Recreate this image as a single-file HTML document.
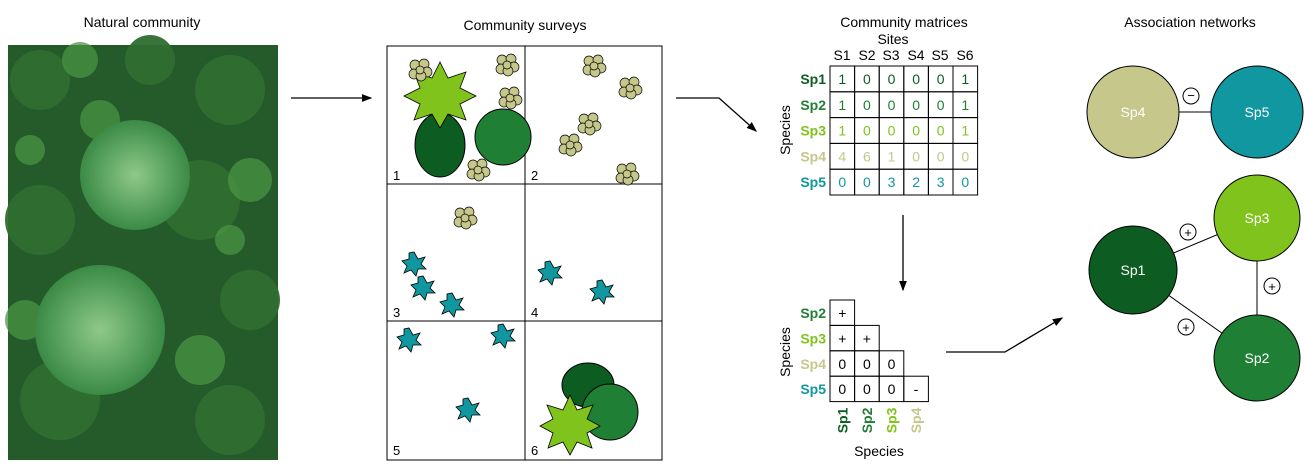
<!DOCTYPE html>
<html><head><meta charset="utf-8"><style>
body{margin:0;background:#fff;}
svg{display:block;font-family:"Liberation Sans",Arial,sans-serif;}
</style></head><body>
<svg width="1304" height="468" viewBox="0 0 1304 468">
<defs>
<marker id="ah" markerWidth="8" markerHeight="8" refX="7" refY="4" orient="auto"><path d="M0,1 L8,4 L0,7 Z" fill="#000"/></marker>
<radialGradient id="fern" cx="50%" cy="50%" r="50%"><stop offset="0" stop-color="#8fc98a"/><stop offset="1" stop-color="#3a8a45"/></radialGradient>
<g id="clump"><g fill="#c5c88a" stroke="#000" stroke-width="0.7">
<circle cx="-5" cy="-5" r="5"/><circle cx="4" cy="-6" r="5"/><circle cx="7" cy="2" r="5"/><circle cx="-6" cy="4" r="5"/><circle cx="1" cy="6" r="5"/><circle cx="0" cy="0" r="4"/></g></g>
<g id="star"><polygon points="0,-12 4,-5 11,-7 7,0 12,5 4,5 2,12 -3,6 -10,9 -7,2 -12,-3 -5,-5 -5,-11" fill="#10979f" stroke="#000" stroke-width="0.8"/></g>
</defs>
<text x="142" y="27" text-anchor="middle" font-size="14">Natural community</text>
<text x="525" y="30" text-anchor="middle" font-size="14">Community surveys</text>
<text x="904" y="27" text-anchor="middle" font-size="14">Community matrices</text>
<text x="1190" y="27" text-anchor="middle" font-size="14">Association networks</text>

<g>
<rect x="8" y="45" width="270" height="415" fill="#255a2a"/>
<g fill="#2f6e30" opacity="0.95">
<circle cx="40" cy="80" r="30"/><circle cx="230" cy="90" r="35"/><circle cx="200" cy="200" r="40"/><circle cx="40" cy="220" r="35"/><circle cx="250" cy="300" r="30"/><circle cx="60" cy="400" r="40"/><circle cx="230" cy="420" r="35"/><circle cx="150" cy="60" r="25"/>
</g>
<g fill="#4a9443" opacity="0.75">
<circle cx="100" cy="120" r="20"/><circle cx="250" cy="180" r="22"/><circle cx="25" cy="320" r="20"/><circle cx="200" cy="360" r="25"/><circle cx="80" cy="60" r="18"/><circle cx="230" cy="240" r="15"/><circle cx="30" cy="150" r="15"/>
</g>
<circle cx="135" cy="175" r="55" fill="url(#fern)"/>
<circle cx="100" cy="330" r="65" fill="url(#fern)"/>
</g>

<g stroke="#000" stroke-width="1.3" fill="none">
<line x1="291" y1="98" x2="371" y2="98" marker-end="url(#ah)"/>
<polyline points="676,98 719,98 756,131" marker-end="url(#ah)"/>
<line x1="903" y1="215" x2="903" y2="290" marker-end="url(#ah)"/>
<polyline points="946,352 1005,352 1062,318" marker-end="url(#ah)"/>
</g>

<g>
<rect x="387" y="46" width="275" height="414" fill="#fff" stroke="#000" stroke-width="1"/>
<line x1="525" y1="46" x2="525" y2="460" stroke="#000"/>
<line x1="387" y1="184" x2="662" y2="184" stroke="#000"/>
<line x1="387" y1="321" x2="662" y2="321" stroke="#000"/>
<g font-size="13">
<text x="393" y="180">1</text><text x="531" y="180">2</text><text x="393" y="317">3</text><text x="531" y="317">4</text><text x="393" y="455">5</text><text x="531" y="455">6</text>
</g>
<ellipse cx="440" cy="145" rx="25" ry="32" fill="#0d5d22" stroke="#000"/>
<ellipse cx="503" cy="137" rx="28" ry="28" fill="#1f7f34" stroke="#000"/>
<polygon points="440,62 448,78 466,72 460,88 476,96 460,104 466,120 448,114 440,128 432,114 414,120 420,104 404,96 420,88 414,72 432,78" fill="#80c31c" stroke="#000" stroke-width="0.8"/>
<use href="#clump" x="420" y="70"/><use href="#clump" x="507" y="65"/><use href="#clump" x="510" y="98"/><use href="#clump" x="478" y="170"/>
<use href="#clump" x="594" y="66"/><use href="#clump" x="630" y="88"/><use href="#clump" x="589" y="124"/><use href="#clump" x="570" y="145"/><use href="#clump" x="627" y="174"/><use href="#clump" x="465" y="218"/>
<use href="#star" x="414" y="264"/><use href="#star" x="423" y="288"/><use href="#star" x="452" y="305"/><use href="#star" x="550" y="273"/><use href="#star" x="602" y="292"/>
<use href="#star" x="409" y="340"/><use href="#star" x="503" y="336"/><use href="#star" x="468" y="410"/>
<ellipse cx="588" cy="385" rx="26" ry="22" fill="#0d5d22" stroke="#000"/>
<ellipse cx="610" cy="412" rx="28" ry="28" fill="#1f7f34" stroke="#000"/>
<polygon points="570,395 577,410 593,405 587,419 600,426 587,433 592,448 577,442 570,455 563,442 548,448 553,433 540,426 553,419 547,405 563,410" fill="#80c31c" stroke="#000" stroke-width="0.8"/>
</g>

<g>
<text x="893" y="44" text-anchor="middle" font-size="14">Sites</text>
<g font-size="14" text-anchor="middle">
<text x="842" y="60">S1</text><text x="867" y="60">S2</text><text x="891" y="60">S3</text><text x="916" y="60">S4</text><text x="940" y="60">S5</text><text x="965" y="60">S6</text>
</g>
<text transform="translate(790,130) rotate(-90)" text-anchor="middle" font-size="14">Species</text>
<g id="m1"></g>
</g>

<g>
<text transform="translate(790,352) rotate(-90)" text-anchor="middle" font-size="14">Species</text>
<text x="879" y="456" text-anchor="middle" font-size="14">Species</text>
<g id="m2"></g>
</g>

<g>
<line x1="1133" y1="112" x2="1257" y2="112" stroke="#000"/>
<line x1="1133" y1="270" x2="1257" y2="218" stroke="#000"/>
<line x1="1257" y1="218" x2="1257" y2="358" stroke="#000"/>
<line x1="1133" y1="270" x2="1257" y2="358" stroke="#000"/>
<g font-size="14" fill="#fff" text-anchor="middle">
<circle cx="1133" cy="112" r="46" fill="#c5c88a" stroke="#000"/><text x="1133" y="117">Sp4</text>
<circle cx="1257" cy="112" r="46" fill="#10979f" stroke="#000"/><text x="1257" y="117">Sp5</text>
<circle cx="1257" cy="218" r="43" fill="#80c31c" stroke="#000"/><text x="1257" y="223">Sp3</text>
<circle cx="1133" cy="270" r="44" fill="#0d5d22" stroke="#000"/><text x="1133" y="275">Sp1</text>
<circle cx="1257" cy="358" r="43" fill="#1f7f34" stroke="#000"/><text x="1257" y="363">Sp2</text>
</g>
<g fill="#fff" stroke="#000" font-size="13" text-anchor="middle">
<circle cx="1191" cy="96" r="8"/><circle cx="1188" cy="232" r="8"/><circle cx="1272" cy="286" r="8"/><circle cx="1186" cy="327" r="8"/>
</g>
<g font-size="13" text-anchor="middle">
<text x="1191" y="100">−</text><text x="1188" y="237">+</text><text x="1272" y="291">+</text><text x="1186" y="332">+</text>
</g>
</g>
</svg>
<script>
const NS='http://www.w3.org/2000/svg';
const species=['Sp1','Sp2','Sp3','Sp4','Sp5'];
const colors=['#0d5d22','#1f7f34','#80c31c','#c5c88a','#10979f'];
const counts=[[1,0,0,0,0,1],[1,0,0,0,0,1],[1,0,0,0,0,1],[4,6,1,0,0,0],[0,0,3,2,3,0]];
const assoc=[['+'],['+','+'],['0','0','0'],['0','0','0','-']];
function el(t,a,p,txt){const e=document.createElementNS(NS,t);for(const k in a)e.setAttribute(k,a[k]);if(txt!==undefined)e.textContent=txt;p.appendChild(e);return e;}
const m1=document.getElementById('m1');
const cw=24.6,rh=25.8,x0=830,y0=66;
counts.forEach((row,i)=>{
  const lab=el('text',{x:x0-4,y:y0+i*rh+18,'text-anchor':'end','font-size':14,'font-weight':'bold',fill:colors[i]},m1,species[i]);
  
  
  row.forEach((v,j)=>{
    const r=el('rect',{x:x0+j*cw,y:y0+i*rh,width:cw,height:rh,fill:'none',stroke:'#000'},m1);
    
    
    el('text',{x:x0+j*cw+cw/2,y:y0+i*rh+18,'text-anchor':'middle','font-size':14,fill:colors[i]},m1,v);
  });
});
const m2=document.getElementById('m2');
const y1=300,rh2=25.4;
assoc.forEach((row,i)=>{
  const lab=el('text',{x:x0-4,y:y1+i*rh2+18,'text-anchor':'end','font-size':14,'font-weight':'bold',fill:colors[i+1]},m2,species[i+1]);
  
  
  row.forEach((v,j)=>{
    const r=el('rect',{x:x0+j*cw,y:y1+i*rh2,width:cw,height:rh2,fill:'none',stroke:'#000'},m2);
    
    
    el('text',{x:x0+j*cw+cw/2,y:y1+i*rh2+18,'text-anchor':'middle','font-size':14,fill:'#000'},m2,v);
  });
});
for(let j=0;j<4;j++){
  const t=el('text',{transform:`translate(${x0+j*cw+cw/2+5},${y1+4*rh2+6}) rotate(-90)`,'text-anchor':'end','font-size':14,'font-weight':'bold',fill:colors[j]},m2,species[j]);
  
  
}
</script>
</body></html>
